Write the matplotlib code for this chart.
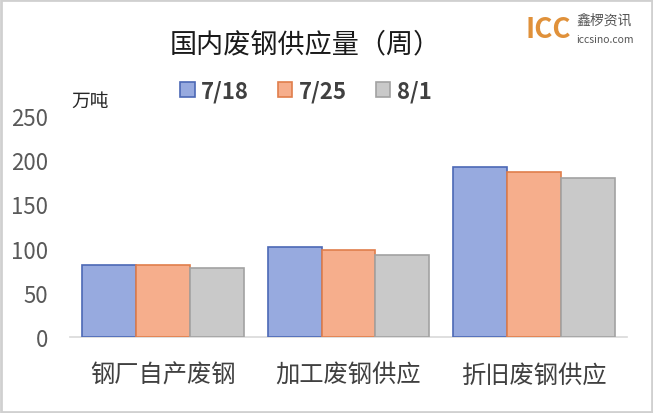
import numpy as np
import matplotlib
matplotlib.use("Agg")
import matplotlib.pyplot as plt
from matplotlib.patches import Patch, Rectangle

# =====================================================
# DATA
# =====================================================

categories = ["钢厂自产废钢", "加工废钢供应", "折旧废钢供应"]
series_names = ["7/18", "7/25", "8/1"]

v_0718 = [81, 102, 192]
v_0725 = [81, 98, 187]
v_0801 = [78, 93, 180]

yticks = [0, 50, 100, 150, 200, 250]

# =====================================================
# STYLE
# =====================================================

plt.rcParams["font.family"] = ["Noto Sans CJK SC", "DejaVu Sans"]

fills = ["#97AADF", "#F6AE8C", "#C9C9C9"]
edges = ["#4C68B5", "#E07E4C", "#A2A2A2"]
tick_color = "#595959"

# =====================================================
# FIGURE
# =====================================================

fig = plt.figure(figsize=(6.53, 4.14), dpi=100)
ax = fig.add_axes([70 / 653, 1 - 338 / 414, 557 / 653, 221 / 414])

x = np.arange(len(categories))
width = 0.29
all_values = [v_0718, v_0725, v_0801]

for i, vals in enumerate(all_values):
    ax.bar(
        x + (i - 1) * width,
        vals,
        width=width,
        color=fills[i],
        edgecolor=edges[i],
        linewidth=1.2,
        zorder=3
    )

ax.set_xlim(-0.5, len(categories) - 0.5)
ax.set_ylim(0, 250)
ax.set_yticks(yticks)
ax.set_xticks(x)
ax.set_xticklabels(categories, fontsize=17.5, color="#404040")
ax.tick_params(axis="y", labelsize=16, colors=tick_color, length=0, pad=16)
ax.tick_params(axis="x", length=0, pad=18)

for side in ["top", "right", "left"]:
    ax.spines[side].set_visible(False)
ax.spines["bottom"].set_color("#D9D9D9")
ax.spines["bottom"].set_linewidth(1.2)

# =====================================================
# TEXT
# =====================================================

fig.text(
    305 / 653, 1 - 45 / 414,
    "国内废钢供应量（周）",
    ha="center", va="center",
    fontsize=19.5, color="#1a1a1a"
)

fig.text(
    90 / 653, 1 - 101 / 414,
    "万吨",
    ha="center", va="center",
    fontsize=13.5, color="#262626"
)

handles = [
    Patch(facecolor=fills[i], edgecolor=edges[i], linewidth=1.2)
    for i in range(3)
]
fig.legend(
    handles,
    series_names,
    loc="center",
    bbox_to_anchor=(306 / 653, 1 - 92 / 414),
    ncol=3,
    frameon=False,
    prop={"size": 16, "weight": "bold"},
    labelcolor="#404040",
    handlelength=0.65,
    handleheight=0.65,
    handletextpad=0.3,
    columnspacing=1.3
)

# logo
fig.text(
    526 / 653, 1 - 30 / 414,
    "ICC",
    ha="left", va="center",
    fontsize=20, weight="bold", color="#E0913A"
)
fig.text(
    576 / 653, 1 - 21 / 414,
    "鑫椤资讯",
    ha="left", va="center",
    fontsize=10, color="#555555"
)
fig.text(
    576 / 653, 1 - 40 / 414,
    "iccsino.com",
    ha="left", va="center",
    fontsize=7.5, color="#555555"
)

# frame
fig.patches.append(
    Rectangle(
        (0.002, 0.003), 0.996, 0.994,
        transform=fig.transFigure,
        fill=False, edgecolor="#D0D0D0", linewidth=2
    )
)

fig.savefig("out.png", dpi=100)
